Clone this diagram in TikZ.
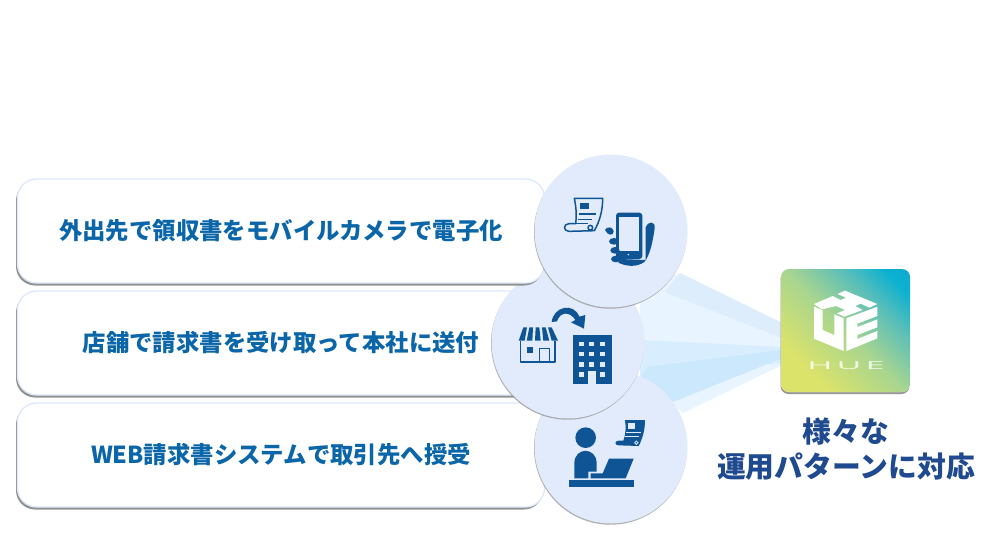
\documentclass[tikz,border=0pt]{standalone}
\usepackage{fontspec}
\newfontfamily\jp{Noto Sans CJK JP}
\newfontfamily\lat{Open Sans}[LetterSpace=12]
\usetikzlibrary{shadows}
\definecolor{ink}{HTML}{0F5596}
\definecolor{disc}{HTML}{E1EBFB}
\definecolor{txtblue}{HTML}{0A66A8}
\definecolor{navy}{HTML}{1F4A8F}
\definecolor{edge}{HTML}{DDE8F8}
\definecolor{huegA}{HTML}{DCE36A}
\definecolor{huegB}{HTML}{A8D58F}
\definecolor{huegC}{HTML}{5CBFB8}
\definecolor{huegD}{HTML}{0DB1D0}
\definecolor{huegE}{HTML}{0A9CCB}
\definecolor{beamA}{RGB}{232,244,255}
\definecolor{beamB}{RGB}{222,237,252}
\definecolor{beamC}{RGB}{216,237,253}
\definecolor{beamD}{RGB}{203,232,252}
\tikzset{
  card/.style={draw=edge,line width=1.3pt,fill=white,rounded corners=19pt,minimum width=527pt,minimum height=104pt,inner sep=0pt,
    text=txtblue,font=\jp\bfseries\fontsize{23.4}{28}\selectfont,
    drop shadow={shadow xshift=-1.5pt,shadow yshift=-2.5pt,fill=black!50,opacity=.85}},
  disk/.style={circle,fill=disc,minimum size=153pt,inner sep=0pt,
    drop shadow={shadow xshift=-.5pt,shadow yshift=-1.2pt,fill=black!40,opacity=.8}},
  inkfill/.style={fill=ink,draw=none},
  inkline/.style={draw=ink,line width=1.5pt,fill=none,line join=round},
  discfill/.style={fill=disc,draw=none},
  iconscope/.style={scale=1/3},
  caption/.style={text=navy,font=\jp\bfseries\fontsize{28.8}{34}\selectfont,inner sep=0pt}
}
\pgfdeclareverticalshading{huegrad}{100bp}{
  color(0bp)=(huegA); color(28bp)=(huegA); color(50bp)=(huegB); color(66bp)=(huegC); color(78bp)=(huegD); color(100bp)=(huegE)}
\begin{document}
\begin{tikzpicture}[x=1pt,y=-1pt]
\useasboundingbox[fill=white] (0,0) rectangle (1000,550);
% beams
\fill[beamA] (680,273)--(782,323)--(782,365)--(683,413)--(640,375)--(640,290)--cycle;
\fill[beamB] (680,273)--(782,323)--(782,338)--(665,292)--cycle;
\fill[beamC] (640,340)--(782,347)--(782,363)--(640,376)--cycle;
\fill[beamD] (647,367)--(782,350)--(782,358)--(673,402)--(640,378)--cycle;
% circles and cards, back to front
\node[card] (b3) at (281,455) {\raisebox{1.5pt}{WEB請求書システムで取引先へ授受}};
\node[disk] (c3) at (611,447) {};
\node[card] (b2) at (281,343) {店舗で請求書を受け取って本社に送付};
\node[disk] (c2) at (568,342) {};
\node[card] (b1) at (281,231) {外出先で領収書をモバイルカメラで電子化};
\node[disk] (c1) at (611,231) {};
% icon 1
\begin{scope}[shift={(555,190)},iconscope]
\draw[inkline] (58,25)--(143,25) .. controls (143,60) and (135,92) .. (118,122) -- (42,124) .. controls (24,124) and (24,101) .. (42,101) -- (62,101) .. controls (66,70) and (62,45) .. (58,25) -- cycle;
\fill[inkfill] (76,40) rectangle (103,58);
\draw[inkline] (72,72)--(123,72) (70,88)--(112,88) (42,101)--(100,101);
\draw[inkline] (106,113) circle (7);
\fill[inkfill,rounded corners=3pt] (183,68) rectangle (262,207);
\fill[discfill] (192,80) rectangle (253,183);
\fill[inkfill] (272,210) -- (272,112) .. controls (280,92) and (302,92) .. (299,116) .. controls (292,160) and (285,195) .. (268,216) .. controls (245,232) and (215,230) .. (190,218) -- (195,207) -- cycle;
\fill[inkfill] (150,120) .. controls (155,108) and (175,110) .. (176,124) .. controls (176,138) and (158,138) .. (150,120) -- cycle;
\fill[inkfill] (177,154) ellipse (15 and 10);
\fill[inkfill] (180,181) ellipse (14 and 10);
\fill[inkfill] (183,207) ellipse (15 and 10);
\fill[discfill] (220,194) circle (2.5);
\end{scope}
% icon 2
\begin{scope}[shift={(510,300)},iconscope]
\fill[inkfill] (40,82)--(51,82)--(44,122)--(26,122)--cycle;
\fill[inkfill] (58,82)--(69,82)--(67,122)--(50,122)--cycle;
\fill[inkfill] (77,82)--(88,82)--(92,122)--(75,122)--cycle;
\fill[inkfill] (96,82)--(107,82)--(118,122)--(100,122)--cycle;
\fill[inkfill] (114,82)--(125,82)--(144,122)--(125,122)--cycle;
\draw[inkline] (31,122)--(31,186)--(135,186)--(135,122);
\fill[inkfill] (50,141) rectangle (70,160);
\draw[inkline] (88,186)--(88,146)--(118,146)--(118,186);
\fill[inkfill] (125,66) .. controls (130,20) and (190,5) .. (208,50) -- (226,45) -- (222,86) -- (183,67) -- (196,60) .. controls (180,33) and (150,35) .. (141,64) -- cycle;
\fill[inkfill] (188,105) rectangle (305,252);
\foreach \wx in {215,245,277}{\foreach \wy in {132,162,193}{\fill[discfill] (\wx-7,\wy-7) rectangle +(14,14);}}
\fill[discfill] (208,217) rectangle +(14,14);
\fill[discfill] (270,217) rectangle +(14,14);
\fill[discfill] (235,214) rectangle (258,252);
\end{scope}
% icon 3
\begin{scope}[shift={(560,410)},iconscope]
\fill[inkfill] (77,83) circle (31);
\fill[inkfill] (43,205) -- (43,160) .. controls (43,110) and (110,110) .. (110,160) -- (110,185) -- (85,185) -- (85,205) -- cycle;
\fill[inkfill] (147,146)--(221,146)--(197,205)--(92,205)--(92,190)--(128,190)--cycle;
\fill[inkfill] (27,211) rectangle (222,232);
\fill[inkfill] (195,30)--(255,30) .. controls (255,60) and (248,85) .. (236,108) -- (176,106) .. controls (163,106) and (163,92) .. (176,92) -- (190,92) .. controls (198,70) and (198,50) .. (195,30) -- cycle;
\fill[discfill] (203,40) rectangle (226,56);
\draw[disc,line width=1pt] (198,66)--(242,66) (195,80)--(236,80);
\draw[disc,line width=.8pt] (229,98) circle (5);
\end{scope}
% logo
\node[rounded corners=8pt,minimum width=129pt,minimum height=123pt,inner sep=0pt,fill=white,
  drop shadow={shadow xshift=-.5pt,shadow yshift=-2pt,fill=black!45,opacity=.9}] (logo) at (845.5,330.5) {};
\shade[shading=huegrad,shading angle=-45,rounded corners=8pt] (781,269) rectangle (910,392);
\begin{scope}[shift={(800,280)},iconscope]
\fill[white] (42,72)--(98,48)--(122,60)--(138,53)--(112,42)--(135,32)--(232,72)--(208,83)--(182,71)--(166,78)--(188,90)--(133,110)--(110,100)--(135,90)--(108,78)--(66,88)--cycle;
\fill[white] (42,80)--(68,91)--(68,150)--(103,165)--(103,103)--(131,115)--(131,213)--(42,176)--cycle;
\fill[white] (139,115)--(232,80)--(232,108)--(172,131)--(172,141)--(232,118)--(232,142)--(172,165)--(172,177)--(232,153)--(232,175)--(139,213)--cycle;
\end{scope}
\node[inner sep=0pt,text=white,text opacity=.8] (huename) at (846,366) {\lat\fontsize{11}{12}\selectfont\scalebox{3.1}[1]{HUE}};
% caption
\node[caption] (cap1) at (846,432) {様々な};
\node[caption] (cap2) at (846,467) {運用パターンに対応};
\end{tikzpicture}
\end{document}
